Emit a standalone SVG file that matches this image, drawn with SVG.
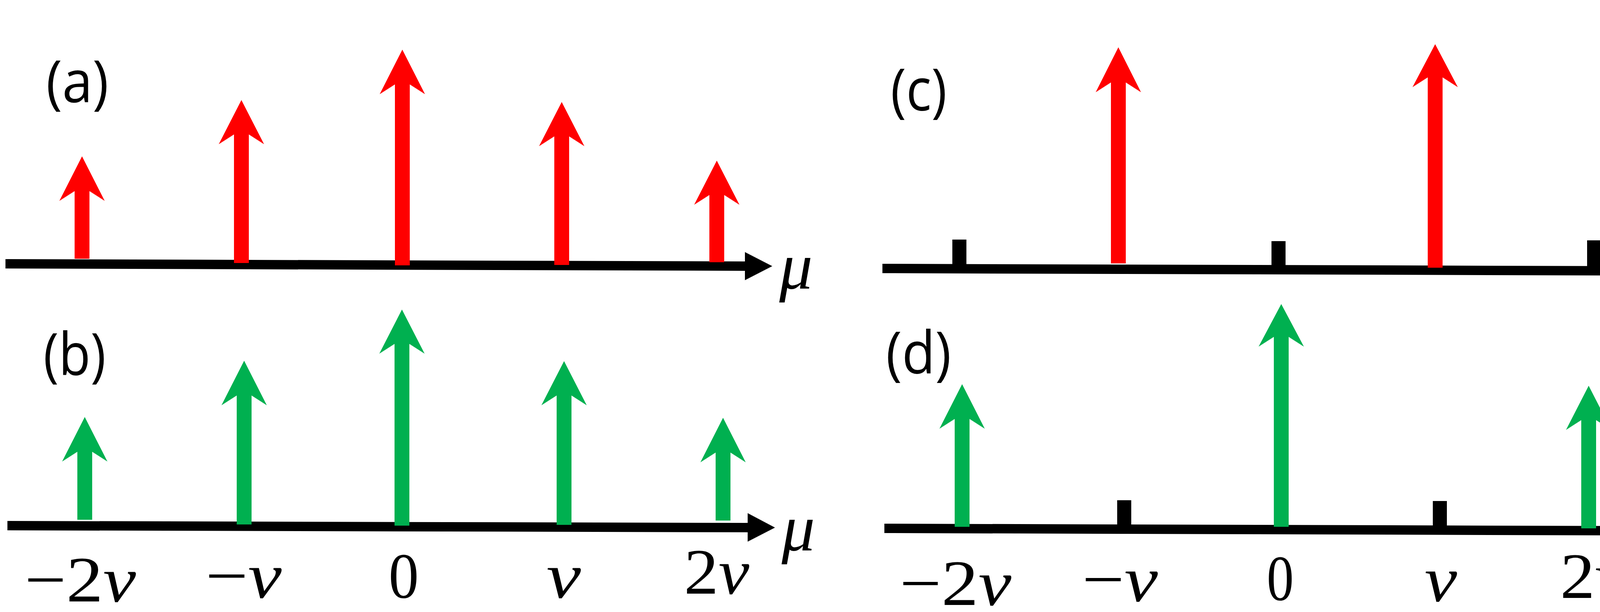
<svg xmlns="http://www.w3.org/2000/svg" width="4342" height="1566" viewBox="0 0 4342 1566">
<style>
.r{fill:#FF0000}.g{fill:#00B050}.k{fill:#000}
.lab{font-family:"Open Sans","Liberation Sans",sans-serif;font-size:150px;fill:#000}
.mu{font-family:"Liberation Serif",serif;font-style:italic;font-size:170px;fill:#000}
.tk{font-family:"Liberation Serif",serif;font-size:165px;fill:#000}
</style>
<rect width="4342" height="1566" fill="#fff"/>
<g id="axes">
<polygon class="k" points="14,663 1907,669 1907,645 1977,681 1907,717 1907,693 14,687"/>
<polygon class="k" points="19,1333 1914,1338 1914,1313 1984,1350 1914,1386 1914,1362 19,1357"/>
<polygon class="k" points="2259,675 4152,681 4152,657 4224,693 4152,728 4152,705 2259,699"/>
<polygon class="k" points="2264,1340 4159,1346 4159,1322 4231,1358 4159,1394 4159,1370 2264,1364"/>
<rect class="k" x="2438" y="613" width="36" height="70"/>
<rect class="k" x="3255" y="617" width="36" height="70"/>
<rect class="k" x="4063" y="615" width="36" height="74"/>
<rect class="k" x="2860" y="1280" width="36" height="66"/>
<rect class="k" x="3668" y="1282" width="36" height="68"/>
</g>
<g id="arrows-a">
<polygon class="r" points="210,400 268,514 229,489 229,662 191,662 191,489 152,514"/>
<polygon class="r" points="618,256 676,369 637,344 637,673 599,673 599,344 560,369"/>
<polygon class="r" points="1030,127 1088,241 1049,216 1049,679 1011,679 1011,216 972,241"/>
<polygon class="r" points="1438,261 1496,374 1457,349 1457,678 1419,678 1419,349 1380,374"/>
<polygon class="r" points="1835,411 1893,524 1854,499 1854,671 1816,671 1816,499 1777,524"/>
</g>
<g id="arrows-b">
<polygon class="g" points="217,1067 275,1181 236,1156 236,1330 198,1330 198,1156 159,1181"/>
<polygon class="g" points="625,923 683,1037 644,1012 644,1342 606,1342 606,1012 567,1037"/>
<polygon class="g" points="1029,792 1087,905 1048,880 1048,1345 1010,1345 1010,880 971,905"/>
<polygon class="g" points="1444,924 1502,1037 1463,1012 1463,1343 1425,1343 1425,1012 1386,1037"/>
<polygon class="g" points="1851,1069 1909,1183 1870,1158 1870,1332 1832,1332 1832,1158 1793,1183"/>
</g>
<g id="arrows-c">
<polygon class="r" points="2863,121 2921,236 2882,211 2882,674 2844,674 2844,211 2805,236"/>
<polygon class="r" points="3674,113 3732,223 3693,198 3693,685 3655,685 3655,198 3616,223"/>
</g>
<g id="arrows-d">
<polygon class="g" points="2463,983 2521,1097 2482,1072 2482,1348 2444,1348 2444,1072 2405,1097"/>
<polygon class="g" points="3280,778 3338,887 3299,862 3299,1348 3261,1348 3261,862 3222,887"/>
<polygon class="g" points="4067,987 4125,1100 4086,1075 4086,1352 4048,1352 4048,1075 4009,1100"/>
</g>
<g id="labels">
<text class="lab" x="118" y="262" textLength="160" lengthAdjust="spacingAndGlyphs">(a)</text>
<text class="lab" x="111" y="960" textLength="160" lengthAdjust="spacingAndGlyphs">(b)</text>
<text class="lab" x="2280" y="283" textLength="144" lengthAdjust="spacingAndGlyphs">(c)</text>
<text class="lab" x="2268" y="956" textLength="167" lengthAdjust="spacingAndGlyphs">(d)</text>
<text class="mu" x="1995" y="738">μ</text>
<text class="mu" x="2001" y="1408">μ</text>
<text class="mu" x="4235" y="730">μ</text>
<text class="mu" x="4249" y="1413">μ</text>
<text class="tk" x="63" y="1539" textLength="285" lengthAdjust="spacingAndGlyphs">−2<tspan font-style="italic">ν</tspan></text>
<text class="tk" x="526" y="1529" textLength="195" lengthAdjust="spacingAndGlyphs">−<tspan font-style="italic">ν</tspan></text>
<text class="tk" x="995" y="1529" textLength="77" lengthAdjust="spacingAndGlyphs">0</text>
<text class="tk" x="1399" y="1529" textLength="88" lengthAdjust="spacingAndGlyphs" font-style="italic">ν</text>
<text class="tk" x="1751" y="1519" textLength="167" lengthAdjust="spacingAndGlyphs">2<tspan font-style="italic">ν</tspan></text>
<text class="tk" x="2303" y="1548" textLength="286" lengthAdjust="spacingAndGlyphs">−2<tspan font-style="italic">ν</tspan></text>
<text class="tk" x="2770" y="1538" textLength="194" lengthAdjust="spacingAndGlyphs">−<tspan font-style="italic">ν</tspan></text>
<text class="tk" x="3243" y="1535" textLength="69" lengthAdjust="spacingAndGlyphs">0</text>
<text class="tk" x="3647" y="1538" textLength="83" lengthAdjust="spacingAndGlyphs" font-style="italic">ν</text>
<text class="tk" x="3994" y="1530" textLength="168" lengthAdjust="spacingAndGlyphs">2<tspan font-style="italic">ν</tspan></text>
</g>
</svg>
